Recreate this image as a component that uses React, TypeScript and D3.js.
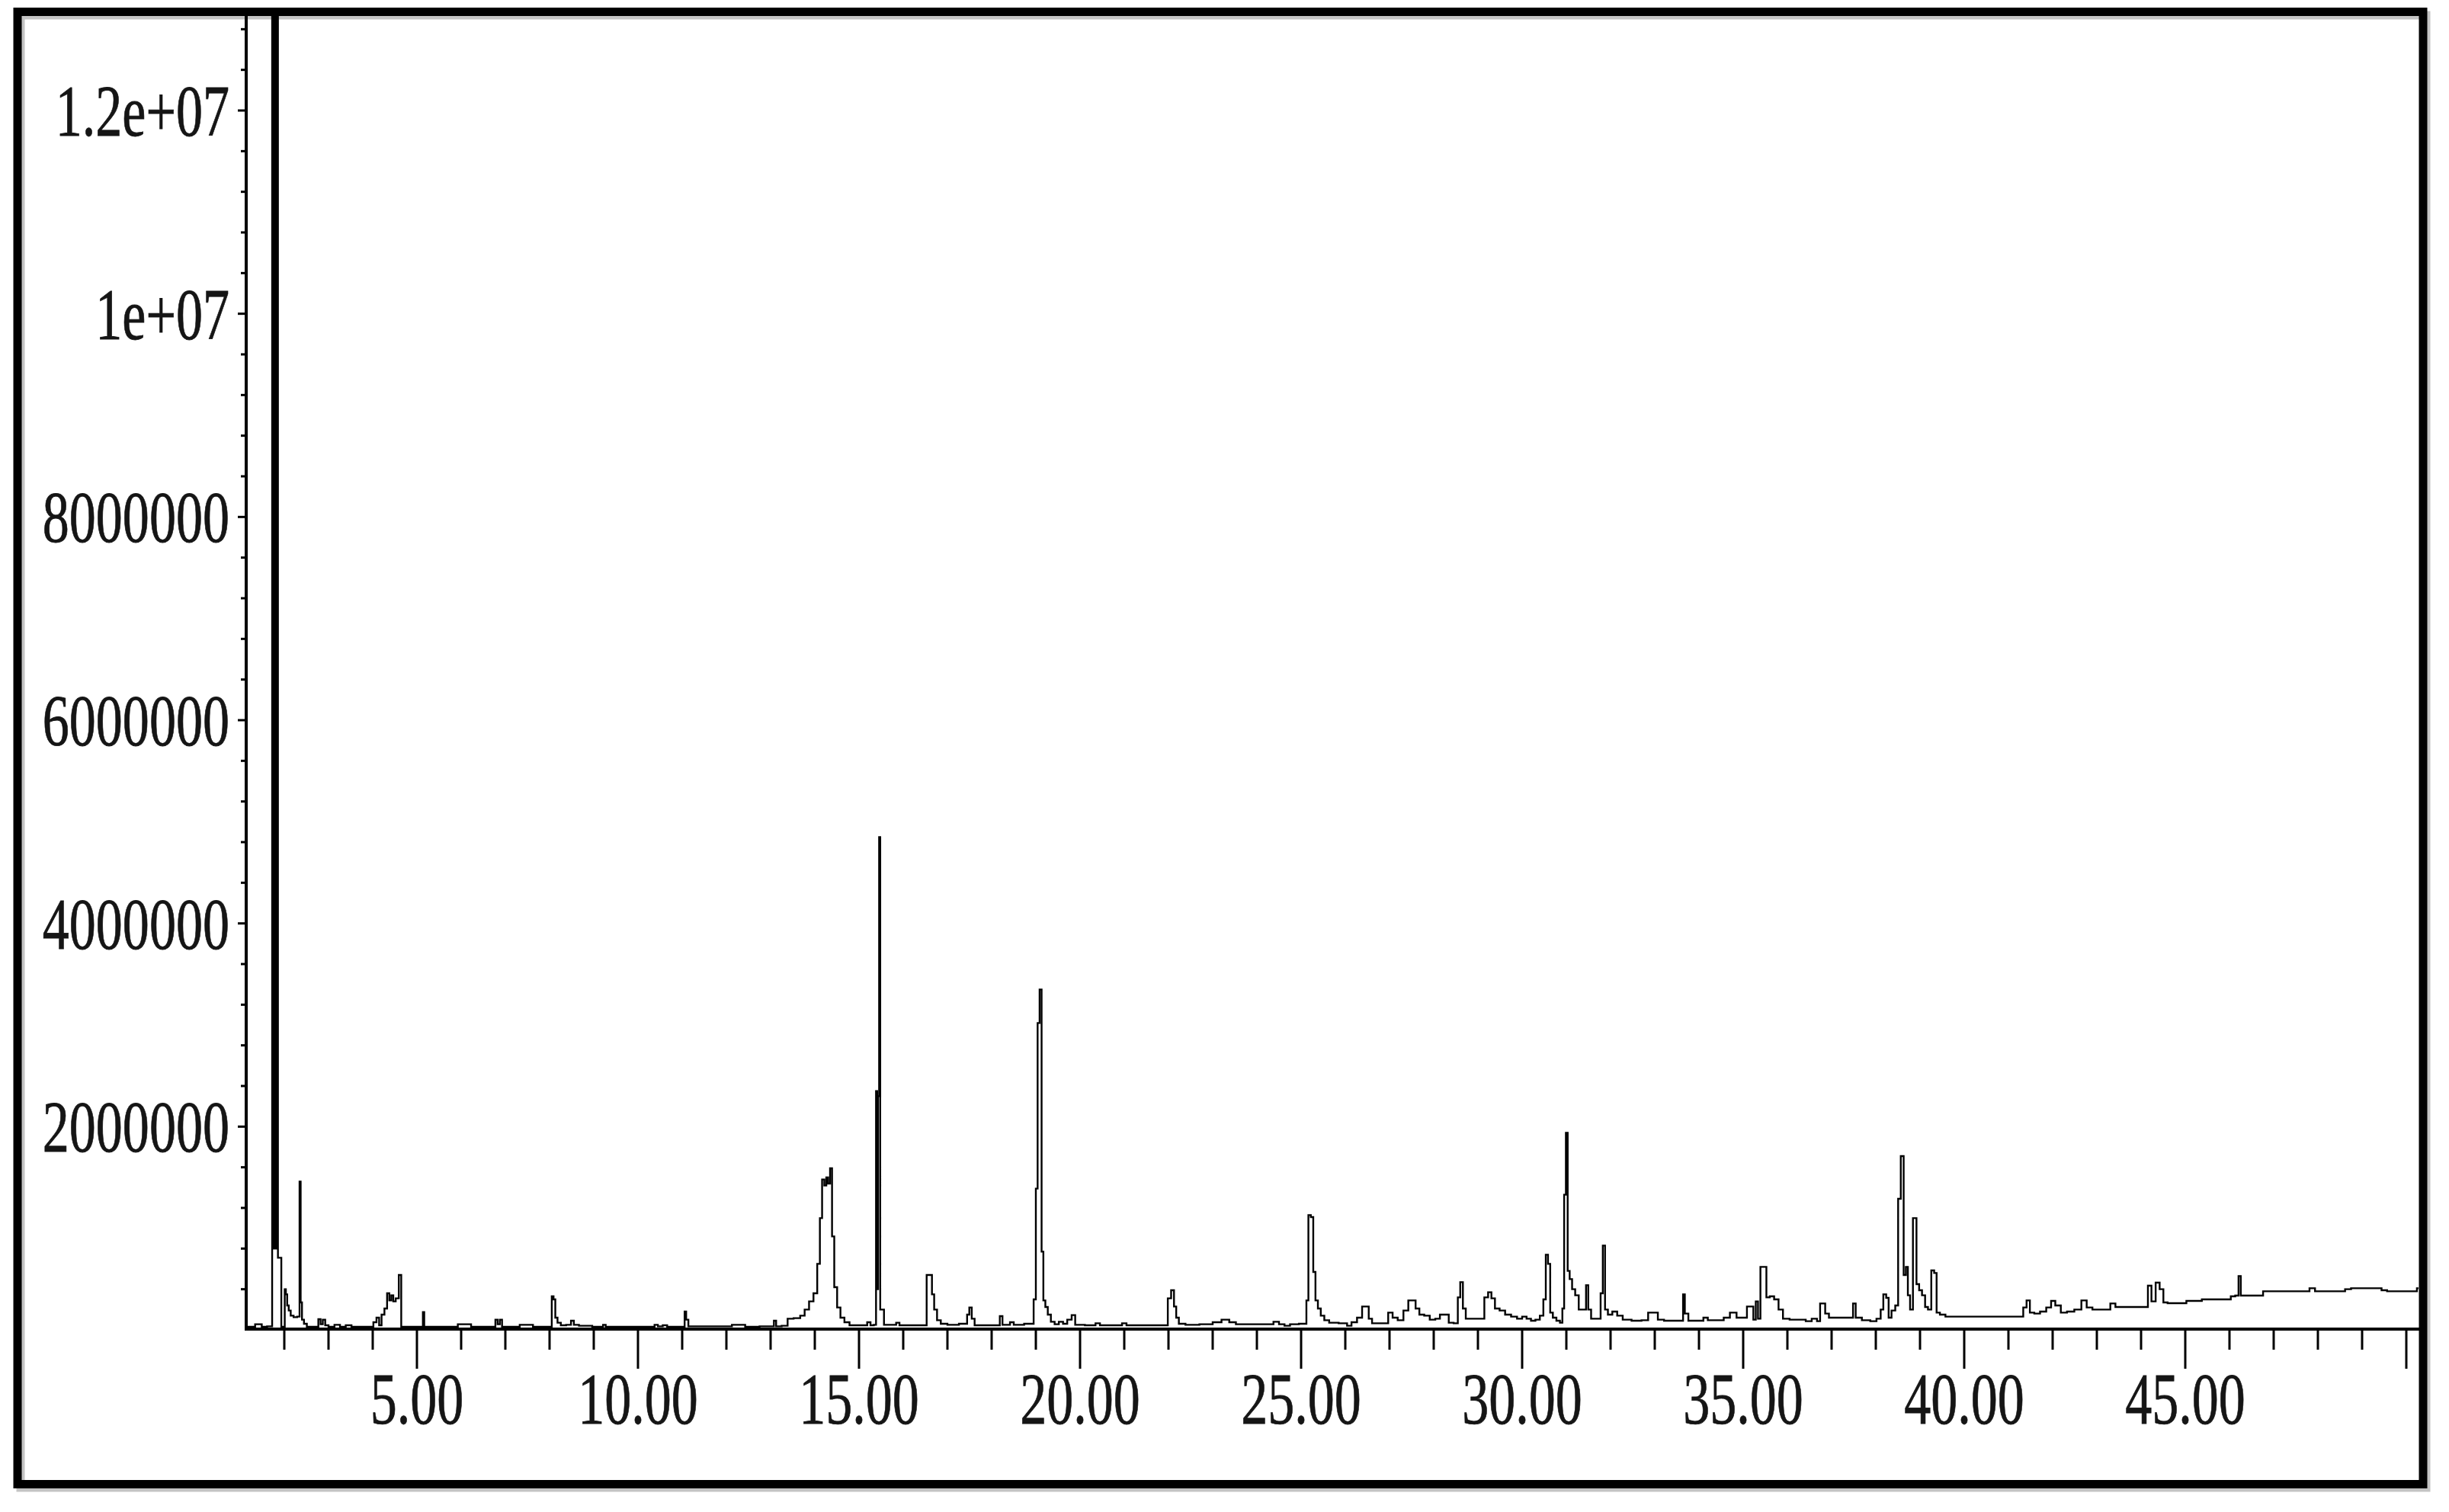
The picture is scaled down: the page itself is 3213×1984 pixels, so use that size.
import React from 'react';
import * as d3 from 'd3';

// Total ion chromatogram: [retention time (min), abundance]
const ticPoints: [number, number][] = [
  [1.14, 30000], [1.30, 30000], [1.38, 55000], [1.48, 55000], [1.50, 30000],
  [1.72, 35000], [1.73, 25000000], [1.76, 800000], [1.79, 25000000], [1.82, 800000],
  [1.85, 25000000], [1.862, 710000], [1.93, 710000], [1.935, 30000], [2.00, 30000],
  [2.02, 400000], [2.05, 350000], [2.08, 240000], [2.12, 190000], [2.17, 140000],
  [2.25, 125000], [2.33, 130000], [2.36, 1460000], [2.38, 270000], [2.42, 100000],
  [2.47, 60000], [2.55, 30000], [2.74, 30000], [2.80, 105000], [2.84, 55000],
  [2.90, 100000], [2.95, 45000], [3.05, 30000], [3.22, 50000], [3.30, 30000],
  [3.48, 45000], [3.56, 30000], [3.98, 30000], [4.05, 75000], [4.12, 120000],
  [4.17, 45000], [4.23, 150000], [4.30, 210000], [4.35, 360000], [4.40, 290000],
  [4.44, 340000], [4.49, 280000], [4.55, 310000], [4.63, 540000], [4.66, 30000],
  [5.12, 30000], [5.15, 175000], [5.18, 30000], [5.90, 30000], [5.95, 55000],
  [6.20, 55000], [6.25, 30000], [6.75, 30000], [6.80, 100000], [6.85, 55000],
  [6.90, 100000], [6.95, 30000], [7.30, 30000], [7.35, 50000], [7.60, 50000],
  [7.65, 30000], [8.03, 30000], [8.07, 330000], [8.11, 300000], [8.15, 120000],
  [8.21, 70000], [8.30, 45000], [8.45, 50000], [8.52, 90000], [8.58, 50000],
  [8.75, 40000], [9.18, 30000], [9.24, 50000], [9.30, 30000], [10.35, 30000],
  [10.40, 50000], [10.50, 35000], [10.62, 45000], [10.70, 30000], [11.04, 30000],
  [11.07, 180000], [11.11, 100000], [11.17, 35000], [12.10, 35000], [12.15, 50000],
  [12.40, 50000], [12.45, 30000], [13.05, 35000], [13.10, 90000], [13.15, 35000],
  [13.35, 40000], [13.42, 110000], [13.62, 115000], [13.72, 140000], [13.82, 200000],
  [13.92, 280000], [14.02, 360000], [14.09, 650000], [14.14, 1100000], [14.19, 1480000],
  [14.24, 1420000], [14.28, 1500000], [14.32, 1440000], [14.37, 1590000], [14.41, 920000],
  [14.47, 420000], [14.54, 220000], [14.62, 120000], [14.72, 75000], [14.85, 45000],
  [15.15, 45000], [15.22, 75000], [15.30, 45000], [15.37, 50000], [15.40, 2350000],
  [15.42, 400000], [15.44, 2300000], [15.47, 4850000], [15.49, 200000], [15.55, 200000],
  [15.58, 50000], [15.80, 50000], [15.88, 70000], [15.95, 45000], [16.50, 45000],
  [16.56, 540000], [16.63, 540000], [16.67, 350000], [16.73, 200000], [16.80, 95000],
  [16.90, 60000], [17.10, 50000], [17.42, 60000], [17.47, 150000], [17.52, 220000],
  [17.58, 110000], [17.65, 45000], [18.15, 45000], [18.22, 135000], [18.27, 50000],
  [18.38, 50000], [18.45, 75000], [18.55, 50000], [18.92, 60000], [18.98, 300000],
  [19.02, 1390000], [19.06, 3020000], [19.11, 3350000], [19.15, 770000], [19.19, 290000],
  [19.24, 225000], [19.30, 150000], [19.38, 80000], [19.47, 55000], [19.57, 80000],
  [19.66, 60000], [19.76, 100000], [19.86, 145000], [19.92, 50000], [20.30, 45000],
  [20.40, 65000], [20.50, 45000], [20.90, 45000], [21.00, 65000], [21.10, 45000],
  [21.95, 45000], [22.02, 310000], [22.10, 390000], [22.15, 230000], [22.20, 120000],
  [22.27, 60000], [22.50, 50000], [22.90, 55000], [23.10, 75000], [23.30, 100000],
  [23.45, 75000], [23.60, 55000], [24.30, 55000], [24.45, 80000], [24.55, 55000],
  [24.70, 40000], [24.80, 55000], [25.10, 60000], [25.14, 290000], [25.19, 1130000],
  [25.25, 1110000], [25.30, 570000], [25.35, 290000], [25.41, 210000], [25.48, 140000],
  [25.57, 95000], [25.70, 70000], [26.00, 65000], [26.08, 40000], [26.20, 75000],
  [26.33, 120000], [26.43, 230000], [26.50, 230000], [26.56, 110000], [26.65, 65000],
  [26.92, 65000], [27.02, 170000], [27.12, 120000], [27.25, 95000], [27.38, 190000],
  [27.47, 290000], [27.55, 290000], [27.63, 210000], [27.72, 150000], [27.85, 140000],
  [27.97, 100000], [28.10, 110000], [28.18, 150000], [28.30, 150000], [28.38, 70000],
  [28.52, 65000], [28.57, 320000], [28.63, 470000], [28.69, 210000], [28.76, 110000],
  [29.10, 110000], [29.19, 320000], [29.27, 370000], [29.34, 310000], [29.43, 210000],
  [29.55, 190000], [29.68, 150000], [29.82, 130000], [29.95, 110000], [30.05, 130000],
  [30.15, 110000], [30.25, 90000], [30.35, 100000], [30.45, 140000], [30.51, 300000],
  [30.56, 740000], [30.61, 650000], [30.66, 170000], [30.73, 120000], [30.82, 90000],
  [30.89, 70000], [30.93, 210000], [30.97, 1330000], [31.01, 1940000], [31.05, 580000],
  [31.10, 500000], [31.16, 400000], [31.24, 340000], [31.32, 200000], [31.42, 200000],
  [31.47, 440000], [31.52, 200000], [31.60, 110000], [31.75, 110000], [31.80, 360000],
  [31.85, 830000], [31.90, 200000], [31.98, 150000], [32.10, 180000], [32.20, 140000],
  [32.35, 100000], [32.60, 90000], [32.80, 95000], [32.90, 170000], [33.02, 170000],
  [33.12, 100000], [33.30, 90000], [33.62, 90000], [33.66, 350000], [33.70, 160000],
  [33.82, 90000], [34.05, 90000], [34.15, 120000], [34.25, 95000], [34.50, 95000],
  [34.62, 120000], [34.78, 170000], [34.92, 120000], [35.05, 120000], [35.12, 230000],
  [35.20, 230000], [35.26, 100000], [35.31, 280000], [35.36, 110000], [35.42, 620000],
  [35.50, 620000], [35.55, 320000], [35.65, 330000], [35.75, 300000], [35.85, 200000],
  [35.95, 110000], [36.15, 100000], [36.35, 100000], [36.48, 85000], [36.62, 110000],
  [36.72, 85000], [36.76, 260000], [36.83, 260000], [36.88, 160000], [37.00, 120000],
  [37.45, 120000], [37.52, 260000], [37.57, 120000], [37.80, 95000], [37.95, 85000],
  [38.08, 110000], [38.14, 200000], [38.20, 350000], [38.27, 315000], [38.31, 120000],
  [38.40, 190000], [38.48, 240000], [38.53, 1290000], [38.60, 1710000], [38.66, 540000],
  [38.70, 620000], [38.75, 340000], [38.80, 200000], [38.88, 1100000], [38.96, 450000],
  [39.00, 390000], [39.09, 340000], [39.14, 225000], [39.22, 200000], [39.29, 585000],
  [39.35, 560000], [39.40, 170000], [39.50, 150000], [39.65, 130000], [41.30, 130000],
  [41.37, 220000], [41.45, 290000], [41.52, 170000], [41.65, 160000], [41.78, 180000],
  [41.93, 220000], [42.00, 285000], [42.12, 240000], [42.25, 170000], [42.40, 180000],
  [42.58, 200000], [42.72, 290000], [42.82, 220000], [42.98, 200000], [43.25, 200000],
  [43.36, 260000], [43.48, 225000], [44.12, 225000], [44.19, 435000], [44.28, 280000],
  [44.38, 465000], [44.46, 400000], [44.55, 270000], [44.65, 262000], [45.00, 262000],
  [45.05, 285000], [45.35, 285000], [45.40, 300000], [45.98, 300000], [46.08, 330000],
  [46.18, 337000], [46.23, 530000], [46.28, 337000], [46.72, 337000], [46.80, 380000],
  [47.75, 380000], [47.87, 410000], [48.00, 380000], [48.58, 380000], [48.65, 400000],
  [48.85, 410000], [49.40, 410000], [49.48, 390000], [49.65, 380000], [50.20, 380000],
  [50.28, 410000],
];

const xMajorTicks = [5, 10, 15, 20, 25, 30, 35, 40, 45, 50];
const xTickLabels = ['5.00', '10.00', '15.00', '20.00', '25.00', '30.00', '35.00', '40.00', '45.00', ''];
const yMajorTicks = [2000000, 4000000, 6000000, 8000000, 10000000, 12000000];
const yTickLabels = ['2000000', '4000000', '6000000', '8000000', '1e+07', '1.2e+07'];

const W = 3213;
const H = 1984;
const PLOT = { left: 323, right: 3173, top: 21, bottom: 1745 };

export default function App() {
  const x = d3.scaleLinear().domain([1.138, 50.276]).range([PLOT.left, PLOT.right]);
  const y = d3.scaleLinear().domain([0, 12000000]).range([1745, 145]);

  const xMinor = d3.range(2, 51).filter((t) => t % 5 !== 0);
  const yMinor = d3.range(1, 33).map((k) => k * 400000).filter((v) => v % 2000000 !== 0);

  const line = d3
    .line<[number, number]>()
    .x((d) => x(d[0]))
    .y((d) => y(d[1]))
    .curve(d3.curveStep);

  const font = "'Liberation Serif', 'Times New Roman', serif";
  const sx = 0.73;

  return (
    <svg
      width={W}
      height={H}
      viewBox={`0 0 ${W} ${H}`}
      style={{ position: 'absolute', left: 0, top: 0, display: 'block', background: '#fff' }}
    >
      <defs>
        <clipPath id="plotClip">
          <rect x={PLOT.left} y={PLOT.top} width={PLOT.right - PLOT.left} height={PLOT.bottom - PLOT.top} />
        </clipPath>
      </defs>
      <rect x={0} y={0} width={W} height={H} fill="#fff" />
      {/* frame with slight shadow */}
      <rect x={27} y={20} width={3156} height={1932} fill="none" stroke="#c4c4c4" strokeWidth={11} />
      <rect x={23} y={15.5} width={3156} height={1932} fill="none" stroke="#000" strokeWidth={11} />

      {/* data */}
      <g clipPath="url(#plotClip)">
        <path d={line(ticPoints) || ''} fill="none" stroke="#000" strokeWidth={2.4} strokeLinejoin="miter" />
      </g>

      {/* y axis */}
      <line x1={PLOT.left} x2={PLOT.left} y1={PLOT.top} y2={1746} stroke="#000" strokeWidth={4} />
      {yMinor.map((v) => (
        <line key={'ym' + v} x1={316} x2={PLOT.left} y1={y(v)} y2={y(v)} stroke="#000" strokeWidth={3} />
      ))}
      {yMajorTicks.map((v, i) => (
        <g key={'yM' + v}>
          <line x1={312} x2={PLOT.left} y1={y(v)} y2={y(v)} stroke="#000" strokeWidth={3} />
          <text
            transform={`translate(301,${y(v) + 33}) scale(${sx},1)`}
            textAnchor="end"
            fontFamily={font}
            fontSize={96}
            fill="#151515"
            stroke="#151515"
            strokeWidth={0.8}
          >
            {yTickLabels[i]}
          </text>
        </g>
      ))}

      {/* x axis */}
      <line x1={321} x2={PLOT.right + 1} y1={1744} y2={1744} stroke="#000" strokeWidth={4} />
      {xMinor.map((t) => (
        <line key={'xm' + t} x1={x(t)} x2={x(t)} y1={1744} y2={1771} stroke="#000" strokeWidth={3} />
      ))}
      {xMajorTicks.map((t, i) => (
        <g key={'xM' + t}>
          <line x1={x(t)} x2={x(t)} y1={1744} y2={1796} stroke="#000" strokeWidth={3} />
          {xTickLabels[i] && (
            <text
              transform={`translate(${x(t)},1868) scale(${sx},1)`}
              textAnchor="middle"
              fontFamily={font}
              fontSize={96}
              fill="#151515"
              stroke="#151515"
              strokeWidth={0.8}
            >
              {xTickLabels[i]}
            </text>
          )}
        </g>
      ))}
    </svg>
  );
}
